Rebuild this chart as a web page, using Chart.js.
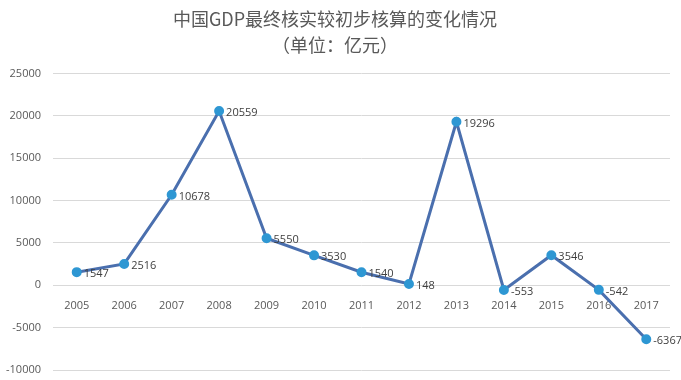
<!DOCTYPE html>
<html>
<head>
<meta charset="utf-8">
<script src="https://cdn.jsdelivr.net/npm/chart.js@4/dist/chart.umd.min.js"></script>
<style>
  html, body { margin: 0; padding: 0; background: #fff; }
  #wrap { width: 681px; height: 380px; }
</style>
</head>
<body>
<div id="wrap"><canvas id="c"></canvas></div>
<script>
var years = ["2005", "2006", "2007", "2008", "2009", "2010", "2011", "2012", "2013", "2014", "2015", "2016", "2017"];
var revisions = [1547, 2516, 10678, 20559, 5550, 3530, 1540, 148, 19296, -553, 3546, -542, -6367];
var titleLines = ["中国GDP最终核实较初步核算的变化情况", "（单位：亿元）"];

var textColor = "#595959";
var baseFont = "'Open Sans', 'Noto Sans CJK SC', sans-serif";

// value labels to the right of each point
var pointLabels = {
    id: "pointLabels",
    afterDatasetsDraw: function (chart) {
        var ctx = chart.ctx;
        var meta = chart.getDatasetMeta(0);
        ctx.save();
        ctx.font = "11px " + baseFont;
        ctx.fillStyle = "#404040";
        ctx.textAlign = "left";
        ctx.textBaseline = "middle";
        meta.data.forEach(function (pt, i) {
            ctx.fillText(String(revisions[i]), pt.x + 7, pt.y + 2);
        });
        ctx.restore();
    }
};

new Chart(document.getElementById("c"), {
    type: "line",
    data: {
        labels: years,
        datasets: [{
            data: revisions,
            borderColor: "#4A6FAE",
            borderWidth: 3,
            pointBackgroundColor: "#2E97D3",
            pointBorderColor: "#2E97D3",
            pointRadius: 3.5,
            tension: 0,
            clip: false
        }]
    },
    options: {
        responsive: true,
        maintainAspectRatio: false,
        animation: false,
        layout: { autoPadding: false, padding: { left: 0, right: 11, bottom: 10 } },
        plugins: {
            legend: { display: false },
            tooltip: { enabled: false },
            title: {
                display: true,
                text: titleLines,
                color: textColor,
                font: { family: "'Noto Sans CJK SC', sans-serif", size: 18, weight: "normal", lineHeight: 1.4 },
                padding: { top: 7, bottom: 16 }
            }
        },
        scales: {
            x: {
                position: { y: 0 },
                offset: true,
                afterFit: function (scale) { scale.height = 0; },
                grid: { display: false },
                border: { display: false },
                ticks: {
                    color: textColor,
                    font: { family: baseFont, size: 11 },
                    padding: 6,
                    maxRotation: 0
                }
            },
            y: {
                min: -10000,
                max: 25000,
                afterFit: function (scale) { scale.width = 53; },
                ticks: {
                    stepSize: 5000,
                    color: textColor,
                    font: { family: baseFont, size: 11 },
                    padding: 3,
                    callback: function (v) { return String(v); }
                },
                // invisible tick marks keep the labels clear of the grid
                grid: { color: "#d9d9d9", tickColor: "rgba(0,0,0,0)", tickLength: 9 },
                border: { display: false }
            }
        }
    },
    plugins: [pointLabels]
});
</script>
</body>
</html>
